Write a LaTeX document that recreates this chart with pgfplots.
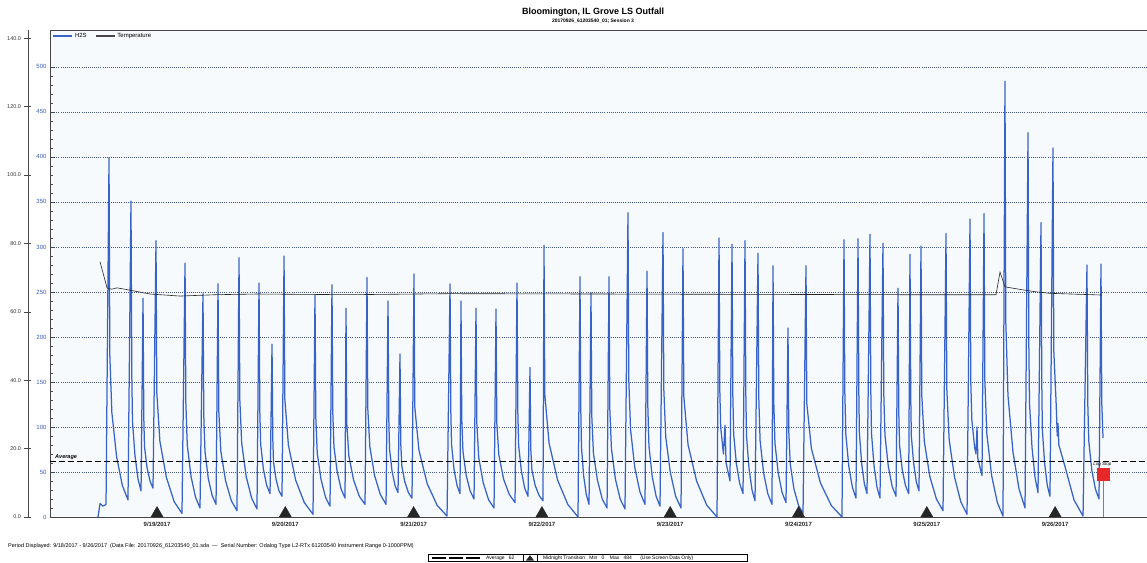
\documentclass[border=0pt]{standalone}
\usepackage{pgfplots}
\pgfplotsset{compat=1.18}
\usepackage{pgfplotstable}
\usepackage{fontspec}
\setmainfont{Liberation Sans}
\definecolor{hblue}{RGB}{55,98,200}
\definecolor{gridc}{RGB}{70,88,135}
\definecolor{tickblue}{RGB}{60,90,190}
\definecolor{bgc}{RGB}{246,250,253}
\definecolor{axc}{RGB}{70,70,75}
\definecolor{logred}{RGB}{232,40,40}

% H2S (ppm) vs hours since 9/18/2017 00:00
\pgfplotstableread{
t h
12.96 0
13.34 15
13.90 12
14.46 14
15.02 399
15.17 180
15.55 116
16.44 67
17.51 35
18.57 19
19.13 351
19.28 158
19.41 106
19.88 68
20.45 42
21.01 29
21.38 243
21.53 109
21.66 78
22.13 55
22.69 40
23.25 32
23.81 307
23.96 138
24.54 84
25.75 44
27.21 17
28.67 4
29.24 282
29.39 127
29.66 80
30.36 45
31.20 22
32.04 10
32.60 248
32.75 112
32.97 73
33.58 43
34.31 24
35.04 14
35.41 259
35.56 117
35.94 73
36.83 40
37.90 18
38.96 7
39.34 288
39.49 130
39.84 82
40.68 45
41.69 21
42.70 9
43.08 260
43.23 117
43.39 81
43.90 53
44.52 35
45.14 26
45.51 192
45.66 86
45.79 61
46.26 42
46.82 29
47.38 23
47.76 290
47.91 131
48.57 80
49.93 41
51.55 16
53.18 3
53.55 247
53.70 111
53.97 71
54.67 42
55.52 22
56.36 12
56.73 258
56.88 116
57.10 78
57.71 50
58.44 31
59.17 21
59.35 232
59.50 104
59.88 68
60.77 41
61.84 23
62.91 14
63.28 266
63.43 120
63.81 78
64.70 46
65.77 25
66.84 14
67.21 240
67.36 108
67.49 76
67.96 51
68.52 35
69.08 27
69.45 181
69.60 81
69.79 57
70.35 39
71.03 27
71.70 21
72.07 270
72.22 122
73.00 74
74.54 37
76.40 13
78.25 1
78.81 259
78.96 117
79.09 81
79.56 53
80.12 35
80.68 26
80.86 240
81.01 108
81.23 73
81.84 46
82.57 29
83.30 20
83.67 232
83.82 104
84.18 66
85.02 38
86.03 19
87.04 10
87.41 231
87.56 104
87.94 69
88.83 42
89.90 25
90.97 16
91.34 260
91.49 117
91.65 79
92.16 51
92.78 32
93.40 23
93.77 166
93.92 75
94.13 52
94.74 35
95.47 24
96.20 18
96.39 302
96.54 136
97.34 82
98.93 41
100.84 14
102.75 0
103.12 267
103.27 120
103.40 78
103.80 46
104.30 25
104.81 14
105.18 249
105.33 112
105.63 71
106.38 41
107.28 20
108.18 10
108.55 267
108.70 120
109.00 76
109.75 42
110.64 20
111.54 9
112.10 338
112.25 152
112.58 97
113.37 55
114.33 28
115.28 14
115.66 273
115.81 123
116.02 79
116.63 45
117.36 23
118.09 12
118.65 316
118.80 142
119.16 89
120.00 50
121.01 23
122.02 10
122.39 298
122.54 134
123.34 80
124.93 40
126.84 13
128.75 0
129.13 310
129.28 140
129.44 100
129.95 70
130.25 102
130.45 60
131.18 40
131.56 303
131.71 136
131.87 92
132.38 59
133.00 37
133.62 26
133.99 307
134.14 138
134.27 90
134.74 54
135.30 30
135.86 18
136.42 293
136.57 132
136.81 85
137.47 49
138.25 26
139.04 14
139.23 279
139.38 126
139.59 82
140.20 49
140.93 27
141.66 16
142.03 210
142.18 95
142.45 59
143.15 31
144.00 13
144.84 4
145.40 279
145.55 126
146.41 76
148.09 38
150.11 13
152.13 0
152.51 308
152.66 139
152.85 92
153.41 56
154.08 33
154.75 21
155.13 309
155.28 139
155.38 94
155.80 60
156.31 37
156.81 26
157.37 314
157.52 141
157.65 93
158.12 57
158.68 33
159.24 21
159.80 304
159.95 137
160.17 91
160.78 57
161.51 34
162.24 23
162.61 254
162.76 114
162.91 79
163.41 52
164.01 35
164.60 26
164.85 292
165.00 131
165.10 90
165.53 60
166.03 39
166.54 29
166.91 301
167.06 135
167.53 84
168.56 45
169.79 20
171.03 7
171.59 315
171.74 142
172.18 86
173.16 45
174.34 17
175.52 3
176.08 331
176.23 149
176.42 108
176.95 77
177.20 70
177.39 100
177.55 65
178.32 46
178.70 337
178.85 152
179.23 92
180.12 46
181.19 16
182.25 1
182.62 484
182.77 218
183.18 135
184.12 72
185.25 31
186.37 10
186.93 427
187.08 192
187.21 126
187.68 77
188.24 44
188.80 27
189.36 327
189.51 147
189.61 97
190.03 60
190.54 35
191.04 23
191.60 410
191.75 185
192.20 125
192.40 90
192.54 104
192.70 80
193.85 56
195.53 19
197.22 1
197.96 280
198.11 126
198.30 84
198.86 52
199.54 31
200.21 20
200.58 281
200.73 126
200.96 88
}\hsdata

\pgfplotstableread{
t temp
13.34 74.6
14.65 67.0
15.50 66.6
16.52 67.0
18.00 66.6
22.69 65.2
28.30 64.6
35.00 65.0
42.70 65.2
60.10 65.0
78.81 65.3
106.87 65.2
134.93 65.1
162.98 65.0
180.94 65.0
181.69 71.6
182.62 67.3
185.99 66.4
188.61 65.8
191.04 65.4
200.77 64.9
}\tempdata

\begin{document}
\begin{tikzpicture}[x=1pt,y=1pt]
\path[use as bounding box] (0,0) rectangle (1147,562);
\fill[white] (0,0) rectangle (1147,562);

% H2S axis
\begin{axis}[
  at={(50pt,45pt)}, anchor=south west, scale only axis,
  width=1097pt, height=487pt,
  xmin=3.98, xmax=209.19, ymin=0, ymax=541,
  axis x line*=bottom, axis y line*=left,
  axis line style={axc, line width=0.9pt},
  axis background/.style={fill=bgc},
  tick align=inside,
  xtick={24,48,72,96,120,144,168,192},
  xticklabels={9/19/2017,9/20/2017,9/21/2017,9/22/2017,9/23/2017,9/24/2017,9/25/2017,9/26/2017},
  xticklabel style={font=\bfseries\fontsize{6}{7}\selectfont, text=black!85, yshift=-1.5pt},
  ytick={0,50,...,500},
  minor y tick num=4,
  major tick length=5pt, minor tick length=3pt,
  yticklabel style={font=\fontsize{6}{7}\selectfont, text=tickblue},
  /pgf/number format/assume math mode=true,
  tick style={axc, line width=0.5pt},
  ymajorgrids,
  major grid style={gridc, line width=0.6pt, dash pattern=on 0.7pt off 1.4pt},
  legend style={at={(0.0015,0.999)}, anchor=north west, draw=none, fill=none,
    font=\fontsize{6}{6.5}\selectfont, inner sep=0.5pt, row sep=0pt,
    /tikz/every even column/.append style={column sep=6pt}},
  legend columns=-1,
  legend image code/.code={\draw[#1, line width=1.7pt] (0pt,0pt) -- (19pt,0pt);},
]
\addplot[hblue, line width=1.25pt, line join=round] table[x=t, y=h] {\hsdata};
\addlegendentry{H2S}
\addlegendimage{axc}
\addlegendentry{Temperature}
% average
\addplot[black, line width=0.75pt, dash pattern=on 6pt off 3pt, forget plot] coordinates {(3.98,62) (209.19,62)};
\node[anchor=south west, inner sep=0pt, font=\itshape\bfseries\fontsize{5.5}{6}\selectfont] at (axis cs:4.92,64) {Average};
% midnight markers
\addplot[only marks, mark=triangle*, mark size=7pt, mark options={fill=black!85, draw=black!85}, forget plot]
  coordinates {(24,3.9) (48,3.9) (72,3.9) (96,3.9) (120,3.9) (144,3.9) (168,3.9) (192,3.9)};
% log stop
\addplot[gray, line width=0.8pt, forget plot] coordinates {(200.96,0) (200.96,48)};
\addplot[only marks, mark=square*, mark size=6pt, mark options={fill=logred, draw=logred}, forget plot]
  coordinates {(200.96,48)};
\node[anchor=west, inner sep=0pt, font=\itshape\fontsize{4.5}{5}\selectfont] at (axis cs:199.1,58) {Log Stop};
\draw[axc, line width=0.8pt] (rel axis cs:0,1) -- (rel axis cs:1,1);
\end{axis}

% Temperature axis
\begin{axis}[
  at={(50pt,45pt)}, anchor=south west, scale only axis,
  width=1097pt, height=487pt,
  xmin=3.98, xmax=209.19, ymin=0, ymax=142.4,
  hide x axis, axis y line*=left, axis y line shift=22pt,
  axis line style={axc, line width=0.9pt},
  ytick={0,20,...,140},
  tick align=center, major tick length=7pt,
  tick style={axc, line width=0.5pt},
  yticklabel style={font=\fontsize{5.5}{6}\selectfont, text=black!80,
    /pgf/number format/fixed, /pgf/number format/fixed zerofill, /pgf/number format/precision=1},
  /pgf/number format/assume math mode=true,
]
\addplot[black!85, line width=0.6pt] table[x=t, y=temp] {\tempdata};
\end{axis}

% titles
\node[font=\bfseries\fontsize{9}{10}\selectfont] at (593,550) {Bloomington, IL Grove LS Outfall};
\node[font=\bfseries\fontsize{5}{6}\selectfont] at (593,540.5) {20170926\_61203540\_01; Session 3};

% footer
\node[anchor=west, inner sep=0pt, font=\fontsize{5.5}{6}\selectfont] at (8,16)
  {Period Displayed: 9/18/2017 - 9/26/2017 \ (Data File: 20170926\_61203540\_01.sda \ --- \ Serial Number: Odalog Type L2-RTx 61203540 Instrument Range 0-1000PPM)};
\draw[black, line width=0.5pt] (428,0.6) rectangle (747,7.6);
\draw[black, line width=1.3pt, dash pattern=on 14pt off 3pt] (432,4.1) -- (480,4.1);
\node[anchor=west, inner sep=0pt, font=\fontsize{5}{6}\selectfont] at (486,4.1) {Average \ \ 62};
\draw[black, line width=0.5pt] (523,0.6) rectangle (537,7.6);
\fill[black!85] (526,1.5) -- (534,1.5) -- (530,6.8) -- cycle;
\node[anchor=west, inner sep=0pt, font=\fontsize{5}{6}\selectfont] at (543,4.1)
  {Midnight Transition \ \ Min \ \ 0 \ \ \ Max \ \ 484 \ \ \ \ \ (Use Screen Data Only)};
\end{tikzpicture}
\end{document}
